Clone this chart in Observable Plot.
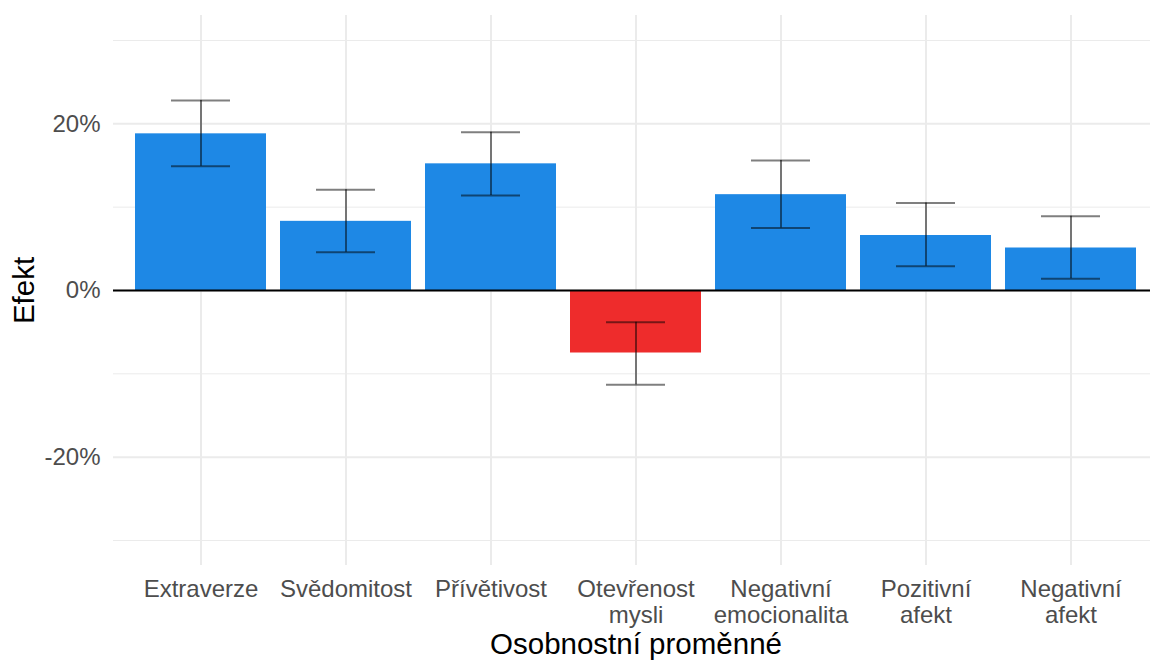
<!DOCTYPE html>
<html>
<head>
<meta charset="utf-8">
<script src="https://cdn.jsdelivr.net/npm/d3@7"></script>
<script src="https://cdn.jsdelivr.net/npm/@observablehq/plot@0.6"></script>
<style>
  html, body { margin: 0; padding: 0; background: white; }
</style>
</head>
<body>
<div id="chart"></div>
<script>
const categories = ["Extraverze", "Svědomitost", "Přívětivost", "Otevřenost\nmysli", "Negativní\nemocionalita", "Pozitivní\nafekt", "Negativní\nafekt"];
const effects = [0.188, 0.083, 0.152, -0.075, 0.115, 0.066, 0.051];
const lower   = [0.149, 0.046, 0.114, -0.113, 0.075, 0.029, 0.014];
const upper   = [0.228, 0.121, 0.190, -0.038, 0.156, 0.105, 0.089];
const yMajor = [-0.2, 0, 0.2];
const yMinor = [-0.3, -0.1, 0.1, 0.3];
const xTitle = "Osobnostní proměnné";
const yTitle = "Efekt";

const data = categories.map((c, i) => ({cat: c, value: effects[i], lo: lower[i], hi: upper[i]}));
const blue = "#1E88E5", red = "#EE2C2C";
const font = "'Liberation Sans', Arial, sans-serif";

const chart = Plot.plot({
  width: 1150,
  height: 660,
  marginLeft: 113,
  marginRight: 0,
  marginTop: 15,
  marginBottom: 95,
  style: {fontFamily: font, background: "white"},
  x: {domain: categories, range: [135, 1136], paddingInner: 0.1, paddingOuter: 0, axis: null},
  y: {domain: [-0.33, 0.33], axis: null},
  marks: [
    Plot.ruleY(yMinor, {stroke: "#ebebeb", strokeWidth: 1}),
    Plot.ruleY(yMajor, {stroke: "#ebebeb", strokeWidth: 2}),
    Plot.ruleX(categories, {x: d => d, stroke: "#ebebeb", strokeWidth: 2}),
    Plot.barY(data, {filter: d => d.value >= 0, x: "cat", y: "value", fill: blue}),
    Plot.barY(data, {filter: d => d.value < 0, x: "cat", y: "value", fill: red}),
    Plot.ruleY([0], {stroke: "black", strokeWidth: 2}),
    Plot.ruleX(data, {x: "cat", y1: "lo", y2: "hi", stroke: "black", strokeOpacity: 0.5, strokeWidth: 2}),
    Plot.tickY(data, {x: "cat", y: "lo", insetLeft: 36, insetRight: 36, stroke: "black", strokeOpacity: 0.5, strokeWidth: 2}),
    Plot.tickY(data, {x: "cat", y: "hi", insetLeft: 36, insetRight: 36, stroke: "black", strokeOpacity: 0.5, strokeWidth: 2}),
    Plot.axisY({ticks: yMajor, tickFormat: d => Math.round(d * 100) + "%", tickSize: 0, tickPadding: 13, fontSize: 24, color: "#4d4d4d", label: null}),
    Plot.axisX({tickSize: 0, tickPadding: 12, fontSize: 24, lineHeight: 1.12, color: "#4d4d4d", label: null}),
    Plot.text([xTitle], {frameAnchor: "bottom", dy: 88, dx: 4, fontSize: 29.5, fill: "black", text: d => d}),
    Plot.text([yTitle], {frameAnchor: "left", textAnchor: "middle", dx: -89, rotate: -90, fontSize: 29.5, fill: "black", text: d => d})
  ]
});
document.getElementById("chart").appendChild(chart);
</script>
</body>
</html>
